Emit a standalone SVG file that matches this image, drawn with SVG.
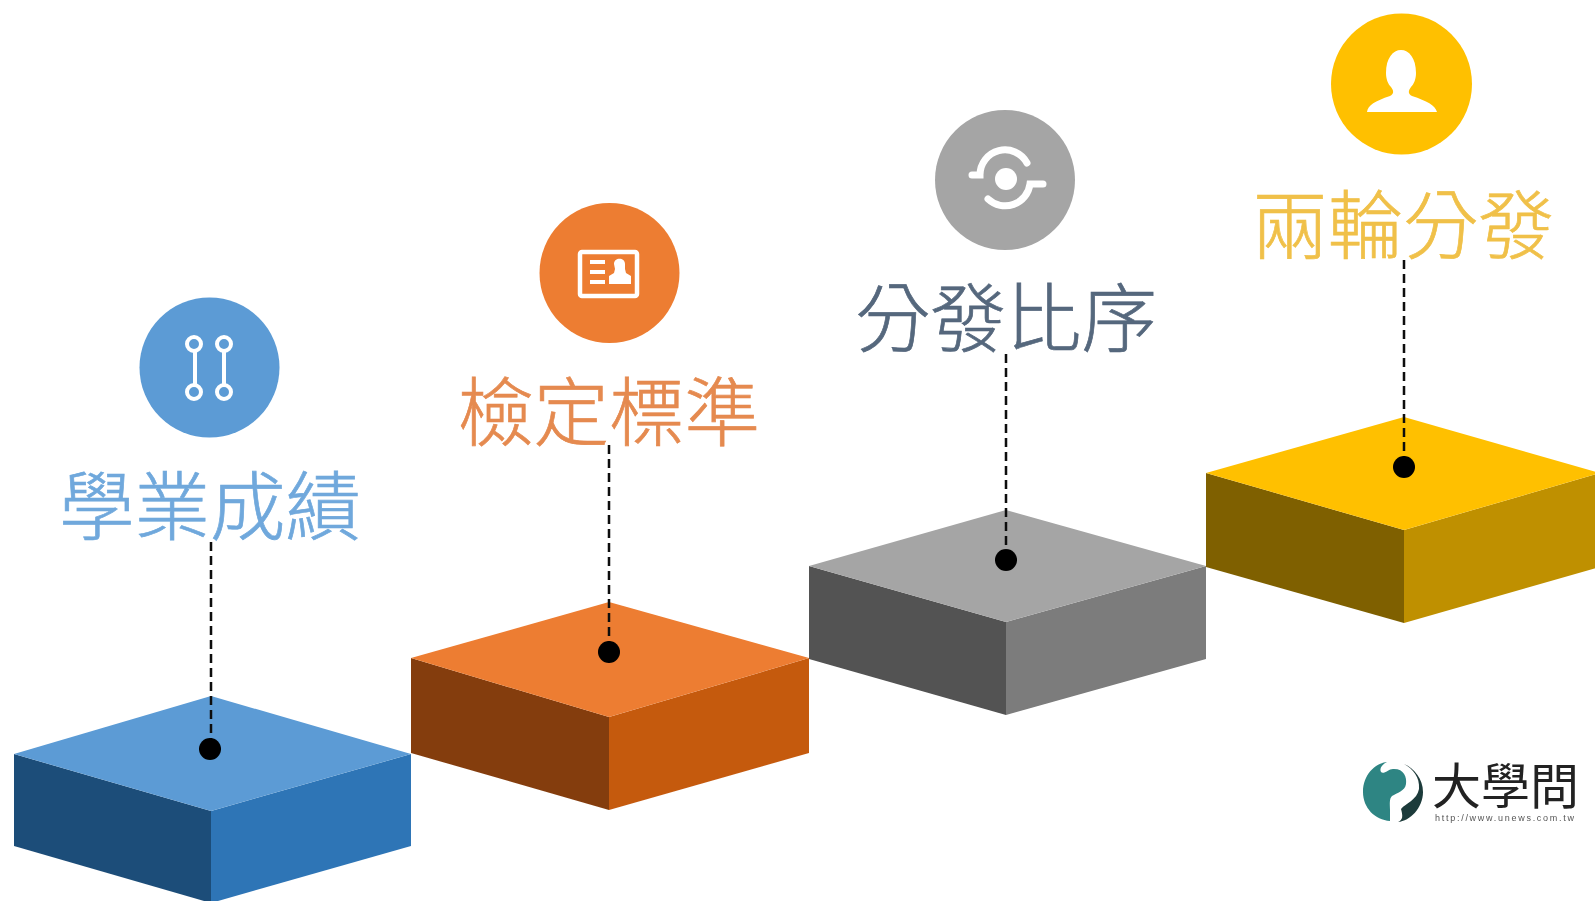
<svg xmlns="http://www.w3.org/2000/svg" width="1595" height="901" viewBox="0 0 1595 901">
<style>
.t{font-family:"Noto Sans CJK TC","Noto Sans CJK SC",sans-serif;font-size:75.500px;font-weight:300;text-anchor:middle;stroke-width:.7}
.d{stroke:#111;stroke-width:2.5;stroke-dasharray:9 5;fill:none}
.i{fill:none;stroke:#fff}
</style>
<defs><filter id="b" x="-5%" y="-5%" width="110%" height="110%"><feGaussianBlur stdDeviation="0.7"/></filter></defs>
<rect width="1595" height="901" fill="#fff"/>
<g filter="url(#b)">
<g id="node-1">
<path fill="#1f4e79" d="M14 754L211 811V903L14 846Z"/>
<path fill="#2e75b6" d="M411 754L211 811V903L411 846Z"/>
<path fill="#5b9bd5" d="M14 754L211 696L411 754L211 811Z"/>
<circle cx="209.500" cy="367.500" r="70" fill="#5b9bd5"/>
<g class="i" stroke-width="4"><circle cx="194" cy="344" r="7"/><circle cx="224" cy="344" r="7"/><circle cx="194" cy="392" r="7"/><circle cx="224" cy="392" r="7"/><path d="M195 351V385M224 351V385"/></g>
<text class="t" x="210" y="534" fill="#6fa8dc" stroke="#6fa8dc">學業成績</text>
</g>
<g id="node-2">
<path fill="#843c0c" d="M411 658L609 717V810L411 753Z"/>
<path fill="#c55a11" d="M809 658L609 717V810L809 753Z"/>
<path fill="#ed7d31" d="M411 658L609 602L809 658L609 717Z"/>
<circle cx="609.500" cy="273" r="70" fill="#ed7d31"/>
<rect x="580" y="252" width="57" height="44" rx="2" fill="none" stroke="#fff" stroke-width="4.500"/>
<path fill="#fff" d="M590 260h15v4h-15zM590 270h15v4h-15zM590 280h15v4h-15zM614 264c0-7 11-7 11 0v5l1 4 5 3v8h-22v-8l5-3 1-4z"/>
<text class="t" x="609" y="440" fill="#e58a50" stroke="#e58a50">檢定標準</text>
</g>
<g id="node-3">
<path fill="#525252" d="M809 566L1006 622V715L809 659Z"/>
<path fill="#7b7b7b" d="M1206 566L1006 622V715L1206 659Z"/>
<path fill="#a5a5a5" d="M809 566L1006 510L1206 566L1006 622Z"/>
<circle cx="1005" cy="180" r="70" fill="#a5a5a5"/>
<circle cx="1006" cy="179" r="11" fill="#fff"/>
<path class="i" stroke-width="7" stroke-linecap="round" d="M972 175h8A25 25 0 0 1 1027 163M988 199A25 25 0 0 0 1030 184h13"/>
<text class="t" x="1006" y="346" fill="#55677d" stroke="#55677d">分發比序</text>
</g>
<g id="node-4">
<path fill="#7f6000" d="M1206 473L1404 530V623L1206 567Z"/>
<path fill="#bf9000" d="M1600 473L1404 530V623L1600 567Z"/>
<path fill="#ffc000" d="M1206 473L1404 417L1600 473L1404 530Z"/>
<circle cx="1401.500" cy="84" r="70.500" fill="#ffc000"/>
<path fill="#fff" d="M1367 112c1-7 8-11 23-16 4-2 4-5 1-9-3-3-5-8-5-14 0-15 7-23 15-23s15 8 15 23c0 6-2 11-5 14-3 4-3 7 1 9 15 5 23 9 25 16z"/>
<text class="t" x="1403" y="253" fill="#f0c048" stroke="#f0c048">兩輪分發</text>
</g>
<g id="connectors">
<path class="d" d="M211 542V749"/><path class="d" d="M609 445V652"/><path class="d" d="M1006 354V560"/><path class="d" d="M1404 260V467"/>
<circle cx="210" cy="749" r="11" fill="#000"/><circle cx="609" cy="652" r="11" fill="#000"/><circle cx="1006" cy="560" r="11" fill="#000"/><circle cx="1404" cy="467" r="11" fill="#000"/>
</g>
<g id="logo">
<path fill="#2f8583" d="M1363 792c0-17 12-29 24-30-4 2-8 6-6 10 3 3 8-4 13-3 10 0 13 8 12 15-1 7-9 9-14 12-3 3-2 8-2 14v11c-15-1-27-13-27-29z"/>
<path fill="#1f3b3a" d="M1404 764c10 4 19 15 19 28 0 16-13 29-25 30 5-2 5-6 3-13 5-6 16-9 18-20 1-12-6-20-15-25z"/>
<text x="1432" y="804" font-family="'Noto Sans CJK TC',sans-serif" font-size="49" fill="#222">大學問</text>
<text x="1435" y="821" font-family="'Liberation Sans',sans-serif" font-size="9" fill="#555" textLength="139">http://www.unews.com.tw</text>
</g>
</g>
</svg>
